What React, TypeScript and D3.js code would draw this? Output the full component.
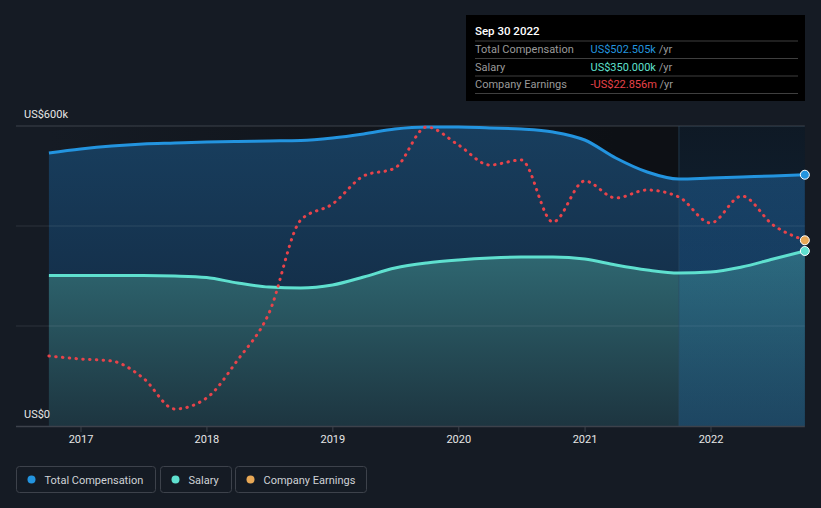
import React from "react";
import * as d3 from "d3";

const dates = [
  "2016-09-30", "2016-12-31", "2017-03-31", "2017-06-30", "2017-09-30",
  "2017-12-31", "2018-03-31", "2018-06-30", "2018-09-30", "2018-12-31",
  "2019-03-31", "2019-06-30", "2019-09-30", "2019-12-31", "2020-03-31",
  "2020-06-30", "2020-09-30", "2020-12-31", "2021-03-31", "2021-06-30",
  "2021-09-30", "2021-12-31", "2022-03-31", "2022-06-30", "2022-09-30",
];
// thousands USD
const totalComp = [
  546, 554, 560, 564, 566, 568, 569, 570, 571, 576, 584, 594, 598,
  598, 596, 594, 588, 572, 536, 508, 494, 496, 498, 500, 502.505,
];
const salary = [
  301, 301, 301, 301, 300, 297, 286, 278, 276, 282, 298, 316, 326,
  332, 336, 338, 338, 334, 322, 312, 306, 308, 318, 334, 350,
];
// millions USD
const earnings = [
  -46.0, -46.6, -47.0, -50.4, -56.6, -54.4, -46.8, -37.4, -18.8, -15.6,
  -10.0, -8.4, -0.2, -3.8, -7.8, -6.8, -19.2, -11.0, -14.4, -12.8,
  -14.2, -19.4, -14.0, -19.8, -22.856,
];
const yTicks = [0, 200, 400, 600];
const xTickYears = [2017, 2018, 2019, 2020, 2021, 2022];
const legendItems = ["Total Compensation", "Salary", "Company Earnings"];
const tooltipTitle = "Sep 30 2022";
const tooltipLabels = ["Total Compensation", "Salary", "Company Earnings"];
const tooltipValues = ["US$502.505k", "US$350.000k", "-US$22.856m"];
const highlightStart = "2021-09-30";

const W = 821;
const H = 508;
const FONT = "Roboto, 'Noto Sans', sans-serif";
const C_TOTAL = "#2394df";
const C_SALARY = "#5fe0cf";
const C_EARN = "#e8434a";
const C_EARN_DOT = "#e8a856";
const BG = "#151b24";

export default function App() {
  const parse = d3.timeParse("%Y-%m-%d");
  const ds = dates.map((d) => parse(d) as Date);
  const x = d3
    .scaleTime()
    .domain([new Date(2017, 0, 1), new Date(2022, 0, 1)])
    .range([81, 711]);
  const y = d3.scaleLinear().domain([0, 600]).range([426, 126]);
  const yE = d3.scaleLinear().domain([-60, 0]).range([426, 126]);

  const xStart = x(ds[0]);
  const xEnd = x(ds[ds.length - 1]);
  const hx = x(parse(highlightStart) as Date);

  const areaT = d3
    .area<number>()
    .x((_, i) => x(ds[i]))
    .y0(y(0))
    .y1((d) => y(d))
    .curve(d3.curveMonotoneX);
  const lineT = d3
    .line<number>()
    .x((_, i) => x(ds[i]))
    .y((d) => y(d))
    .curve(d3.curveMonotoneX);
  const lineE = d3
    .line<number>()
    .x((_, i) => x(ds[i]))
    .y((d) => yE(d))
    .curve(d3.curveMonotoneX);

  const legendColors = [C_TOTAL, C_SALARY, C_EARN_DOT];
  const legendBoxes = [
    { x: 16.5, w: 139 },
    { x: 160.5, w: 71 },
    { x: 235.5, w: 131 },
  ];
  const valueColors = [C_TOTAL, C_SALARY, C_EARN];

  return (
    <svg
      width={W}
      height={H}
      style={{ position: "absolute", left: 0, top: 0, display: "block" }}
      fontFamily={FONT}
    >
      <defs>
        <linearGradient id="plotBg" x1="0" x2="1" y1="0" y2="0">
          <stop offset="0" stopColor="#151b24" />
          <stop offset="0.75" stopColor="#0d1015" />
          <stop offset="1" stopColor="#0d1015" />
        </linearGradient>
        <linearGradient id="totFill" x1="0" x2="0" y1="0" y2="1">
          <stop offset="0" stopColor="#183e5e" />
          <stop offset="1" stopColor="#11243a" />
        </linearGradient>
        <linearGradient id="salFill" x1="0" x2="0" y1="0" y2="1">
          <stop offset="0" stopColor="#2f6872" />
          <stop offset="1" stopColor="#1d3540" />
        </linearGradient>
        <linearGradient id="hiFill" x1="0" x2="0" y1="0" y2="1">
          <stop offset="0" stopColor="#1e78c8" stopOpacity={0.09} />
          <stop offset="1" stopColor="#1e78c8" stopOpacity={0.25} />
        </linearGradient>
      </defs>
      <rect x={0} y={0} width={W} height={H} fill={BG} />
      <rect x={xStart} y={126} width={xEnd - xStart} height={300} fill="url(#plotBg)" />

      <path d={areaT(totalComp) || ""} fill="url(#totFill)" />
      <path d={areaT(salary) || ""} fill="url(#salFill)" />

      {/* grid */}
      {yTicks.map((t) => (
        <line
          key={t}
          x1={16}
          x2={xEnd}
          y1={y(t)}
          y2={y(t)}
          stroke={t === 600 ? "#3d424b" : "#ffffff"}
          strokeOpacity={t === 600 ? 1 : t === 0 ? 0 : 0.1}
          strokeWidth={1}
        />
      ))}

      {/* highlight last year */}
      <rect x={hx} y={126} width={xEnd - hx} height={300} fill="url(#hiFill)" />
      <line x1={hx} x2={hx} y1={126} y2={426} stroke="#2b4a63" strokeOpacity={0.6} />

      <path d={lineT(totalComp) || ""} fill="none" stroke={C_TOTAL} strokeWidth={3} />
      <path d={lineT(salary) || ""} fill="none" stroke={C_SALARY} strokeWidth={3} />
      <path
        d={lineE(earnings) || ""}
        fill="none"
        stroke={C_EARN}
        strokeWidth={3}
        strokeDasharray="0.5 6.3"
        strokeLinecap="round"
      />

      <circle cx={xEnd} cy={y(totalComp[totalComp.length - 1])} r={4.5} fill={C_TOTAL} stroke="#fff" strokeWidth={1} />
      <circle cx={xEnd} cy={yE(earnings[earnings.length - 1])} r={4.5} fill={C_EARN_DOT} stroke="#fff" strokeWidth={1} />
      <circle cx={xEnd} cy={y(salary[salary.length - 1])} r={4.5} fill={C_SALARY} stroke="#fff" strokeWidth={1} />

      {/* x axis */}
      <line x1={16} x2={xEnd} y1={426.5} y2={426.5} stroke="#3d424b" strokeWidth={1.5} />
      {xTickYears.map((yr) => {
        const xx = x(new Date(yr, 0, 1));
        return (
          <g key={yr}>
            <line x1={xx} x2={xx} y1={427} y2={432} stroke="#3d424b" />
            <text x={xx} y={443} textAnchor="middle" fill="#e6e6e6" fontSize={11}>
              {yr}
            </text>
          </g>
        );
      })}

      {/* y labels */}
      <text x={24} y={118} fill="#e6e6e6" fontSize={11}>US$600k</text>
      <text x={24} y={418} fill="#e6e6e6" fontSize={11}>US$0</text>

      {/* legend */}
      {legendItems.map((name, i) => (
        <g key={name}>
          <rect
            x={legendBoxes[i].x}
            y={466.5}
            width={legendBoxes[i].w}
            height={26}
            rx={3}
            fill="none"
            stroke="#3d424b"
          />
          <circle cx={legendBoxes[i].x + 15} cy={479.5} r={4} fill={legendColors[i]} />
          <text x={legendBoxes[i].x + 28} y={483.5} fill="#cfd2d6" fontSize={11}>
            {name}
          </text>
        </g>
      ))}

      {/* tooltip */}
      <rect x={466} y={15} width={339} height={86} fill="#000000" />
      <text x={475} y={35} fill="#ffffff" fontSize={11.5} fontWeight={500}>
        {tooltipTitle}
      </text>
      {[41, 58.5, 76, 93.5].map((ly) => (
        <line key={ly} x1={475} x2={798} y1={ly} y2={ly} stroke="#3f3f3f" />
      ))}
      {tooltipLabels.map((lab, i) => (
        <g key={lab}>
          <text x={475} y={53 + i * 17.5} fill="#9a9a9a" fontSize={11}>
            {lab}
          </text>
          <text x={590.5} y={53 + i * 17.5} fontSize={11}>
            <tspan fill={valueColors[i]}>{tooltipValues[i]}</tspan>
            <tspan fill="#9a9a9a"> /yr</tspan>
          </text>
        </g>
      ))}
    </svg>
  );
}
